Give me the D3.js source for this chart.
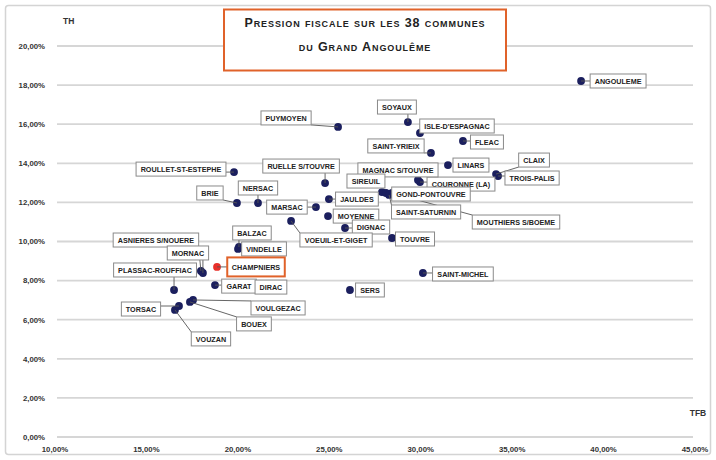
<!DOCTYPE html>
<html><head><meta charset="utf-8">
<script src="https://cdn.jsdelivr.net/npm/d3@7"></script>
<style>
html,body{margin:0;padding:0;background:#fff;}
svg{display:block;font-family:"Liberation Sans",Arial,sans-serif;}
</style></head>
<body><svg id="c" width="716" height="460"></svg>
<script>
// ---- DATA ----
const communes = ["ANGOULEME","SOYAUX","PUYMOYEN","ISLE-D'ESPAGNAC","FLEAC","SAINT-YRIEIX","LINARS","CLAIX","TROIS-PALIS","COURONNE (LA)","MAGNAC S/TOUVRE","SIREUIL","GOND-PONTOUVRE","SAINT-SATURNIN","MOUTHIERS S/BOEME","JAULDES","MARSAC","NERSAC","BRIE","ROULLET-ST-ESTEPHE","RUELLE S/TOUVRE","MOYENNE","DIGNAC","TOUVRE","VOEUIL-ET-GIGET","BALZAC","VINDELLE","ASNIERES S/NOUERE","MORNAC","PLASSAC-ROUFFIAC","CHAMPNIERS","GARAT","DIRAC","VOULGEZAC","BOUEX","TORSAC","VOUZAN","SERS","SAINT-MICHEL"];
const tfb = [38.77,29.30,25.48,29.96,32.31,30.56,31.49,34.12,34.23,29.96,29.85,27.88,28.10,28.27,28.43,24.98,24.27,21.10,19.95,19.79,24.77,24.93,25.86,28.43,22.91,20.06,20.01,17.98,18.09,16.51,18.86,18.75,20.77,17.55,17.38,16.78,16.56,26.13,30.12];
const th  = [18.21,16.11,15.86,15.55,15.14,14.53,13.91,13.45,13.35,13.04,13.15,12.53,12.48,12.38,12.48,12.17,11.76,11.97,11.97,13.55,12.99,11.30,10.69,10.18,11.05,9.72,9.62,8.49,8.39,7.52,8.70,7.77,7.72,7.01,6.91,6.70,6.50,7.52,8.39];
const highlighted = ["CHAMPNIERS"];
const yTicks = [0,2,4,6,8,10,12,14,16,18,20];
const xTicks = [10,15,20,25,30,35,40,45];
const titleLines = ["Pression fiscale sur les 38 communes","du Grand Angoulême"];

// ---- LAYOUT (label box centre offsets from point, px) ----
const labelOffset = {
 "ANGOULEME":[37,0],"SOYAUX":[-11,-15],"PUYMOYEN":[-52,-9],"ISLE-D'ESPAGNAC":[37,-7],"FLEAC":[24,1],
 "SAINT-YRIEIX":[-35,-7],"LINARS":[23,0],"CLAIX":[38,-14],"TROIS-PALIS":[34,2],"COURONNE (LA)":[41,2],
 "MAGNAC S/TOUVRE":[-20,-10],"SIREUIL":[-16,-11],"GOND-PONTOUVRE":[45,1],"SAINT-SATURNIN":[37,17],
 "MOUTHIERS S/BOEME":[124,29],"JAULDES":[28,0],"MARSAC":[-29,0],"NERSAC":[0,-15],"BRIE":[-27,-10],
 "ROULLET-ST-ESTEPHE":[-53,-3],"RUELLE S/TOUVRE":[-24,-17],"MOYENNE":[28,0],"DIGNAC":[26,-1],
 "TOUVRE":[23,1],"VOEUIL-ET-GIGET":[45,19],"BALZAC":[13,-14],"VINDELLE":[26,0],
 "ASNIERES S/NOUERE":[-45,-31],"MORNAC":[-15,-20],"PLASSAC-ROUFFIAC":[-19,-20],"CHAMPNIERS":[39,0],
 "GARAT":[24,1],"DIRAC":[19,1],"VOULGEZAC":[85,8],"BOUEX":[64,22],"TORSAC":[-38,3],"VOUZAN":[36,29],
 "SERS":[20,0],"SAINT-MICHEL":[40,1]
};

const svg = d3.select("#c");
const x = d3.scaleLinear().domain([10,45]).range([55,695]);
const y = d3.scaleLinear().domain([0,20]).range([437,46]);
const fmt = v => d3.format(".2f")(v).replace(".", ",") + "%";

// outer frame
svg.append("rect").attr("x",5.5).attr("y",5.5).attr("width",705).attr("height",449)
  .attr("rx",3).attr("fill","#fff").attr("stroke","#d4d4d4").attr("stroke-width",1.5);

// gridlines
svg.append("g").selectAll("line").data(yTicks).join("line")
  .attr("x1",57).attr("x2",693).attr("y1",d=>y(d)).attr("y2",d=>y(d))
  .attr("stroke","#d6d6d6").attr("stroke-width",1.8);

// y tick labels
svg.append("g").selectAll("text").data(yTicks).join("text")
  .attr("x",45).attr("y",d=>y(d)+2.8).attr("text-anchor","end")
  .attr("font-size",7.8).attr("font-weight","bold").attr("fill","#333").text(fmt);

// x tick labels
svg.append("g").selectAll("text").data(xTicks).join("text")
  .attr("x",d=>x(d)).attr("y",452).attr("text-anchor","middle")
  .attr("font-size",7.8).attr("font-weight","bold").attr("fill","#333").text(fmt);

// axis titles
svg.append("text").attr("x",63).attr("y",24).attr("font-size",8.5).attr("font-weight","bold").attr("fill","#333").text("TH");
svg.append("text").attr("x",698).attr("y",416).attr("text-anchor","middle").attr("font-size",8.5).attr("font-weight","bold").attr("fill","#333").text("TFB");

// title box
svg.append("rect").attr("x",224).attr("y",9.5).attr("width",282).attr("height",61)
  .attr("fill","#fff").attr("stroke","#e0622a").attr("stroke-width",2);
svg.append("g").selectAll("text").data(titleLines).join("text")
  .attr("x",365).attr("y",(d,i)=>27+i*24).attr("text-anchor","middle")
  .attr("font-size",12.5).attr("font-weight","bold").attr("font-variant","small-caps")
  .attr("letter-spacing",0.9).attr("fill","#222").text(d=>d);

const pts = communes.map((n,i)=>({name:n, px:x(tfb[i]), py:y(th[i]), hi: highlighted.includes(n)}));

// dots
svg.append("g").selectAll("circle").data(pts).join("circle")
  .attr("cx",d=>d.px).attr("cy",d=>d.py).attr("r",3.9)
  .attr("fill",d=>d.hi?"#e8302a":"#1b1f5e");

// labels
const lg = svg.append("g");
const leaderG = lg.append("g");
const boxG = lg.append("g");
pts.forEach(d=>{
  const off = labelOffset[d.name];
  const cx = d.px + off[0], cy = d.py + off[1];
  const g = boxG.append("g");
  const r = g.append("rect");
  const t = g.append("text").attr("x",cx).attr("y",cy+2.6).attr("text-anchor","middle")
     .attr("font-size",7.2).attr("font-weight","bold").attr("fill","#222").text(d.name);
  const bb = t.node().getBBox();
  const w = bb.width + 9, h = d.hi ? 19 : 14;
  const bx = cx - w/2, by = cy - h/2;
  r.attr("x",bx).attr("y",by).attr("width",w).attr("height",h).attr("fill","#fff")
   .attr("stroke", d.hi ? "#e0622a" : "#8a8a8a").attr("stroke-width", d.hi ? 2 : 1);
  // leader line
  const nx = Math.max(bx, Math.min(d.px, bx+w));
  const ny = Math.max(by, Math.min(d.py, by+h));
  const dist = Math.hypot(nx-d.px, ny-d.py);
  if (dist > 6) {
    leaderG.append("line").attr("x1",d.px).attr("y1",d.py).attr("x2",nx).attr("y2",ny)
      .attr("stroke","#555").attr("stroke-width",0.9);
  }
});
</script></body></html>
